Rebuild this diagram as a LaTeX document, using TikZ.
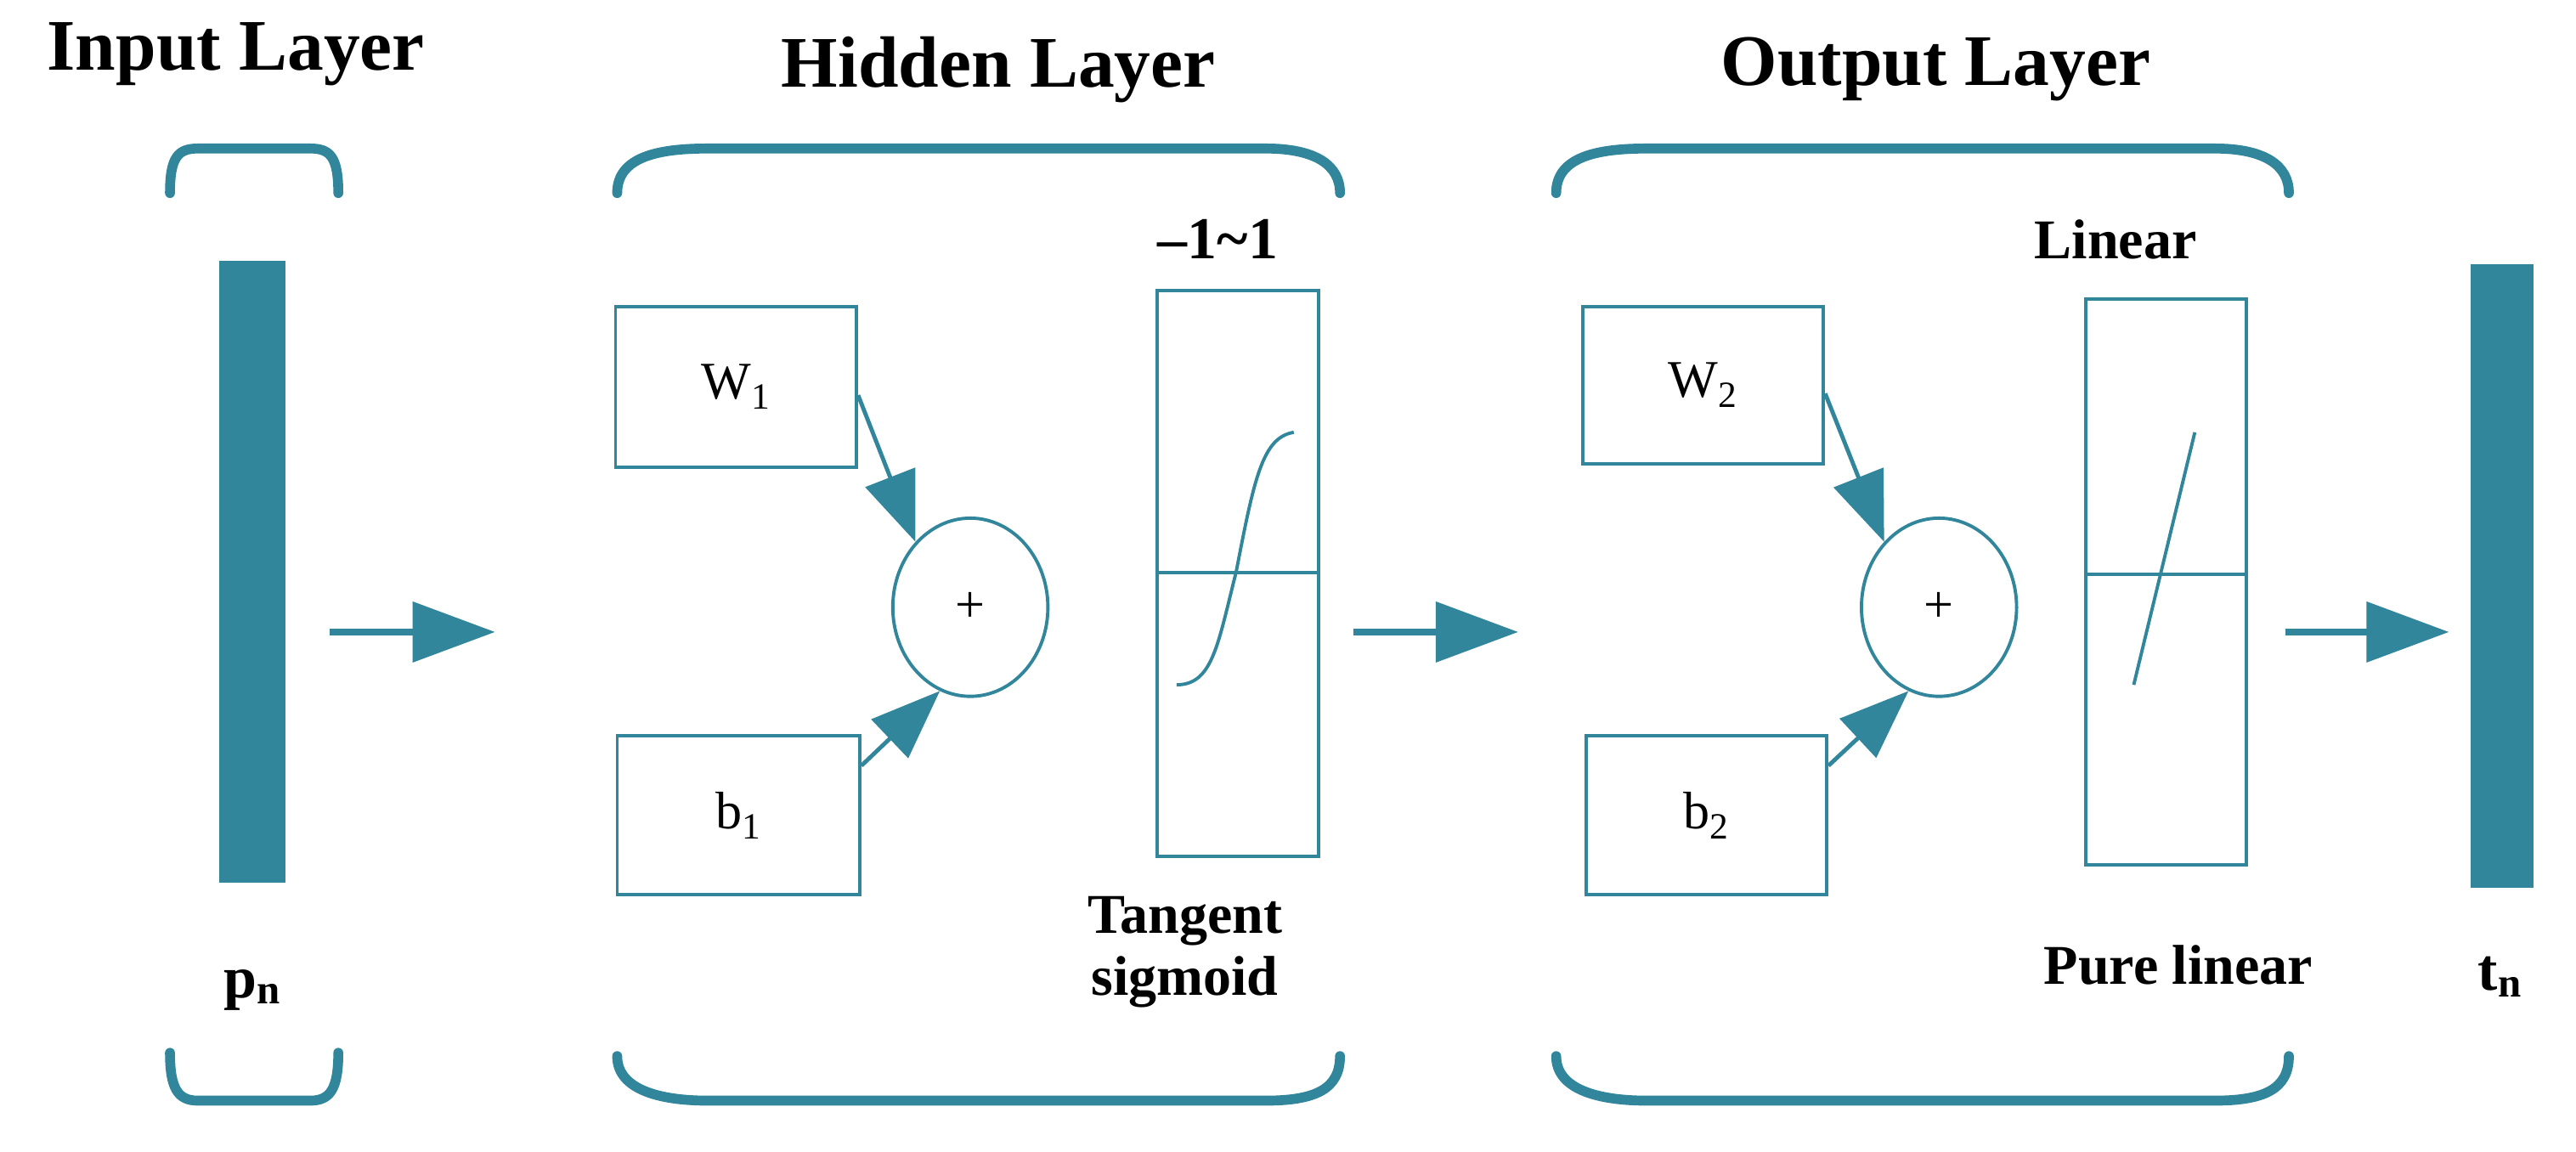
\documentclass[tikz,border=0pt]{standalone}
\usepackage{fontspec}
\setmainfont{Liberation Serif}
\usetikzlibrary{arrows.meta,shapes.geometric}
\definecolor{teal}{HTML}{31869B}
\begin{document}
\begin{tikzpicture}[x=1pt,y=-1pt,
  brk/.style={draw=teal,line width=6pt,line cap=round},
  box/.style={draw=teal,line width=2pt,rectangle,inner sep=0pt,anchor=north west},
  bar/.style={fill=teal,draw=none},
  harr/.style={draw=teal,line width=4pt,-{Triangle[length=50pt,width=36pt]}},
  sarr/.style={draw=teal,line width=2.5pt,-{Triangle[length=42pt,width=32pt]}},
  hdr/.style={font=\fontsize{44}{48}\selectfont\bfseries},
  lbl/.style={font=\fontsize{36}{40}\selectfont\bfseries,align=center},
  sym/.style={font=\fontsize{32}{36}\selectfont}]
\useasboundingbox (0,0) rectangle (1561,698);
% headers
\node[hdr] (h1) at (143,33) {Input Layer};
\node[hdr] (h2) at (605,42) {Hidden Layer};
\node[hdr] (h3) at (1173,42) {Output Layer};
% brackets
\draw[brk] (103,117) .. controls (103,95) and (108,90) .. (120,90) -- (188,90) .. controls (200,90) and (205,95) .. (205,117);
\draw[brk] (103,638) .. controls (103,660) and (108,667) .. (120,667) -- (188,667) .. controls (200,667) and (205,660) .. (205,638);
\foreach \a/\b in {374/812,943/1387}{
 \draw[brk] (\a,117) .. controls (\a,95) and (\a+25,90) .. (\a+55,90) -- (\b-45,90) .. controls (\b-15,90) and (\b,100) .. (\b,117);
 \draw[brk] (\a,640) .. controls (\a,660) and (\a+25,667) .. (\a+55,667) -- (\b-45,667) .. controls (\b-15,667) and (\b,660) .. (\b,640);
}
% bars
\fill[teal] (133,158) rectangle (173,535);
\fill[teal] (1497,160) rectangle (1535,538);
\node[lbl] (pn) at (153,600) {p\textsubscript{n}};
\node[lbl] (tn) at (1515,592) {t\textsubscript{n}};
% horizontal arrows
\coordinate (a1s) at (200,383); \coordinate (a1e) at (300,383);
\coordinate (a2s) at (820,383); \coordinate (a2e) at (920,383);
\coordinate (a3s) at (1385,383); \coordinate (a3e) at (1484,383);
\draw[harr] (a1s) -- (a1e);
\draw[harr] (a2s) -- (a2e);
\draw[harr] (a3s) -- (a3e);
% hidden layer
\node[box,minimum width=146pt,minimum height=97pt,sym] (w1) at (372,185) {W\textsubscript{1}};
\node[box,minimum width=147pt,minimum height=96pt,sym] (b1) at (373,445) {b\textsubscript{1}};
\node[draw=teal,line width=2pt,ellipse,minimum width=94pt,minimum height=108pt,inner sep=0pt,sym] (s1) at (588,368) {+};
\draw[sarr] ([yshift=-5pt]w1.east) -- (s1.130);
\draw[sarr] ([yshift=30pt]b1.east) -- (s1.-110);
\node[box,minimum width=98pt,minimum height=343pt] (f1) at (700,175) {};
\draw[teal,line width=2pt] (f1.west |- 0,347) -- (f1.east |- 0,347);
\draw[teal,line width=2pt] (713,415) .. controls (735,415) and (738,390) .. (749,347) .. controls (760,290) and (765,265) .. (784,262);
\node[lbl] (r1) at (738,145) {\textendash1\textasciitilde1};
\node[lbl,font=\fontsize{34}{38}\selectfont\bfseries] (t1) at (718,577) {Tangent\\sigmoid};
% output layer
\node[box,minimum width=146pt,minimum height=95pt,sym] (w2) at (958,185) {W\textsubscript{2}};
\node[box,minimum width=146pt,minimum height=96pt,sym] (b2) at (960,445) {b\textsubscript{2}};
\node[draw=teal,line width=2pt,ellipse,minimum width=94pt,minimum height=108pt,inner sep=0pt,sym] (s2) at (1175,368) {+};
\draw[sarr] ([yshift=-5pt]w2.east) -- (s2.130);
\draw[sarr] ([yshift=30pt]b2.east) -- (s2.-110);
\node[box,minimum width=97pt,minimum height=343pt] (f2) at (1263,180) {};
\draw[teal,line width=2pt] (f2.west |- 0,348) -- (f2.east |- 0,348);
\draw[teal,line width=2pt] (1293,415) -- (1330,262);
\node[lbl,font=\fontsize{34}{38}\selectfont\bfseries] (l2) at (1282,145) {Linear};
\node[lbl,font=\fontsize{34}{38}\selectfont\bfseries] (p2) at (1320,585) {Pure linear};
\end{tikzpicture}
\end{document}
